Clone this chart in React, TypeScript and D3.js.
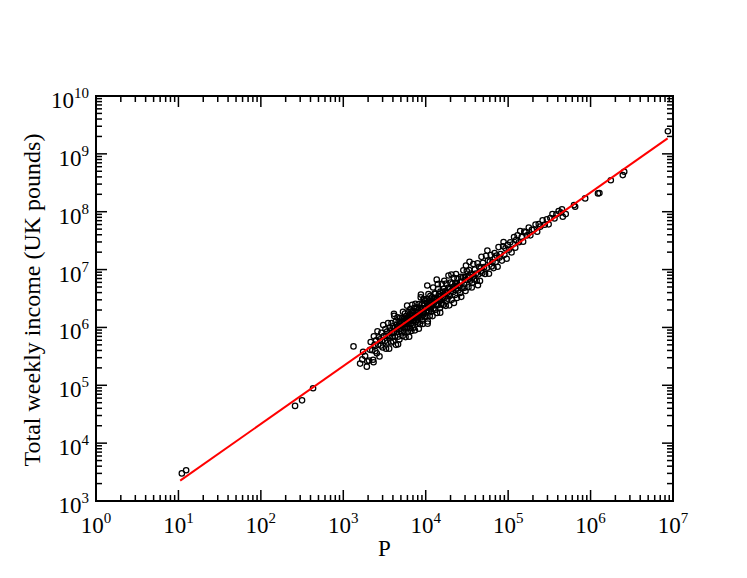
import React, { useEffect, useRef } from 'react';
import * as d3 from 'd3';

// population P and total weekly income (grouped roughly by decade slice)
const population = [
  11, 12.4, 260, 316, 430, 1330, 1600, 1930, 1840, 2300, 1740, 2110, 1700, 1950,
  2050, 2150, 2250, 2330, 2350, 2400, 2450, 2500,
  2550, 2600, 2650, 2700, 2750, 2800, 2850, 2900, 2950, 3000, 3050, 3100,
  3200, 3250, 3300, 3350, 3400, 3450, 3500, 3550, 3600, 3650, 3700, 3750, 3800, 3850, 3900, 3950,
  4000, 4050, 4100, 4150, 4200, 4250, 4300, 4350, 4400, 4450, 4500, 4550, 4600, 4650, 4700, 4750, 4800, 4850, 4900, 4950, 4120, 4620,
  5050, 5100, 5150, 5200, 5250, 5300, 5350, 5400, 5450, 5500, 5550, 5600, 5650, 5700, 5750, 5800, 5850, 5900, 5950, 6000, 6050, 6100, 6150, 6200, 6250, 6300,
  6350, 6400, 6450, 6500, 6550, 6600, 6650, 6700, 6750, 6800, 6850, 6900, 6950, 7000, 7050, 7100, 7150, 7200, 7250, 7300, 7400, 7450, 7500, 7550, 7600, 7700, 7800, 7900,
  8000, 8100, 8200, 8300, 8400, 8500, 8600, 8700, 8800, 8900, 9000, 9100, 9200, 9300, 9400, 9500, 9600, 9700, 9800, 9900, 8250, 8750, 9250, 9650, 8050, 8550, 9050, 9550,
  10100, 10200, 10300, 10400, 10500, 10600, 10700, 10800, 10900, 11000, 11100, 11200, 11300, 11400, 11500, 11600, 11700, 11800, 11900, 12000, 12100, 12200, 12300, 12400, 12500, 10550, 10450,
  12700, 12900, 13100, 13300, 13500, 13600, 13700, 13900, 14100, 14300, 14500, 14700, 14900, 15100, 15300, 15500, 15700, 13000, 13800, 14400, 15000, 15600, 14000, 12800,
  16000, 16300, 16600, 16900, 17200, 17500, 17800, 18100, 18400, 18700, 19000, 19300, 19600, 19900, 16800, 17400, 18000, 18900, 19500, 16200,
  20300, 20700, 21100, 21500, 21900, 22300, 22700, 23100, 23500, 23900, 24300, 24700, 25000, 20500, 22000, 23300, 24000, 21300,
  25600, 26200, 26800, 27400, 28000, 28600, 29200, 29800, 30400, 31000, 31500, 27000, 28300, 29500, 30800, 26000,
  32200, 33000, 33800, 34600, 35400, 36200, 37000, 37800, 38600, 39400, 34000, 36800, 33500, 38200,
  40500, 41500, 42500, 43500, 44500, 45500, 46500, 47500, 48500, 49500, 43000, 47000,
  51000, 52500, 54000, 55500, 57000, 58500, 60000, 61500, 63000, 56000,
  64500, 66500, 68500, 70500, 72500, 74500, 76500, 78500, 69000,
  81000, 84000, 87000, 90000, 93000, 96000, 99000, 88000,
  102000, 106000, 110000, 114000, 118000, 122000, 125000,
  130000, 135000, 140000, 146000, 152000, 157000,
  163000, 170000, 178000, 186000, 194000,
  205000, 215000, 225000, 235000, 245000,
  262000, 278000, 295000, 310000,
  325000, 345000, 365000, 385000,
  4.5e5, 5.0e5, 4.6e5, 6.3e5, 6.5e5, 8.6e5, 1.23e6, 1.28e6, 1.76e6, 2.46e6, 2.56e6, 8.67e6, 4.1e5, 4.4e5,
];

const income = [
  3.0e3, 3.4e3, 4.4e4, 5.5e4, 8.9e4, 4.7e5, 2.37e5, 2.1e5, 3.2e5, 2.76e5, 3.8e5, 4.1e5, 2.8e5, 2.6e5,
  2.67e5, 5.6e5, 4.05e5, 2.5e5, 7.05e5, 5.04e5, 3.9e5, 6.0e5,
  3.57e5, 8.6e5, 5.0e5, 6.75e5, 3.16e5, 6.2e5, 4.85e5, 8.1e5, 5.9e5, 4.5e5, 1.1e6, 7.1e5,
  5.8e5, 9.4e5, 4.3e5, 7.2e5, 8.5e5, 5.5e5, 1.19e6, 7.1e5, 4.3e5, 9.9e5, 7.0e5, 8.8e5, 5.5e5, 1.19e6, 8.0e5, 6.9e5,
  1.04e6, 5.7e5, 8.2e5, 1.58e6, 9.7e5, 7.0e5, 1.25e6, 5.0e5, 9.2e5, 1.11e6, 8.3e5, 1.5e6, 6.9e5, 1.05e6, 1.27e6, 9.3e5, 6.2e5, 1.16e6, 1.47e6, 8.7e5, 1.72e6, 5.1e5,
  1.06e6, 8.2e5, 1.44e6, 1.25e6, 7.1e5, 1.86e6, 1.02e6, 1.22e6, 1.42e6, 8.3e5, 1.14e6, 1.74e6, 1.02e6, 6.8e5, 1.35e6, 1.57e6, 1.14e6, 9.7e5, 2.38e6, 1.29e6, 1.51e6, 8.5e5, 1.85e6, 1.15e6, 1.44e6, 6.9e5,
  1.27e6, 1.66e6, 9.7e5, 2.08e6, 1.44e6, 1.16e6, 1.63e6, 8.7e5, 1.89e6, 1.39e6, 2.47e6, 1.31e6, 1.11e6, 1.61e6, 1.9e6, 9.9e5, 1.5e6, 2.16e6, 1.3e6, 1.83e6, 8.9e5, 1.6e6, 2.55e6, 1.47e6, 1.25e6, 1.85e6, 2.22e6, 1.58e6,
  1.8e6, 1.22e6, 2.54e6, 1.58e6, 2.18e6, 1.15e6, 1.81e6, 3.3e6, 2.11e6, 1.51e6, 2.52e6, 1.82e6, 1.15e6, 2.14e6, 3.1e6, 1.76e6, 2.4e6, 1.55e6, 2.11e6, 2.87e6, 9.5e5, 3.7e6, 1.62e6, 2.6e6, 1.97e6, 1.67e6, 1.31e6, 3.06e6,
  2.22e6, 1.53e6, 3.09e6, 1.98e6, 2.63e6, 1.27e6, 2.3e6, 3.78e6, 1.91e6, 2.92e6, 2.22e6, 1.57e6, 2.66e6, 3.53e6, 2.07e6, 2.84e6, 1.87e6, 2.48e6, 3.33e6, 2.34e6, 1.57e6, 2.81e6, 4.9e6, 2.11e6, 3.19e6, 1.16e6, 5.3e6,
  2.67e6, 2.0e6, 3.8e6, 2.46e6, 3.24e6, 6.7e6, 1.78e6, 3.06e6, 4.65e6, 2.43e6, 3.77e6, 2.94e6, 2.16e6, 4.15e6, 2.91e6, 3.57e6, 5.65e6, 3.25e6, 2.42e6, 3.1e6, 1.8e6, 2.57e6, 5.6e6, 3.84e6,
  3.28e6, 2.45e6, 4.65e6, 3.21e6, 4.21e6, 2.36e6, 5.7e6, 3.89e6, 3.13e6, 4.86e6, 3.7e6, 2.41e6, 4.61e6, 5.97e6, 6.4e6, 3.92e6, 2.88e6, 7.9e6, 3.51e6, 4.13e6,
  4.26e6, 3.0e6, 5.7e6, 4.09e6, 7.2e6, 5.13e6, 3.63e6, 5.78e6, 4.7e6, 3.23e6, 7.05e6, 5.31e6, 4.38e6, 8.2e6, 2.64e6, 8.4e6, 5.76e6, 4.69e6,
  5.12e6, 3.93e6, 7.5e6, 6.17e6, 4.76e6, 9.7e6, 5.55e6, 7.45e6, 4.26e6, 6.67e6, 9.45e6, 3.38e6, 7.36e6, 4.87e6, 1.17e7, 6.11e6,
  6.6e6, 4.95e6, 9.8e6, 6.4e6, 8.5e6, 4.89e6, 8.14e6, 1.25e7, 6.76e6, 1.0e7, 1.36e7, 5.89e6, 7.54e6, 7.64e6,
  8.5e6, 6.43e6, 1.28e7, 8.27e6, 1.11e7, 6.37e6, 1.05e7, 1.66e7, 8.73e6, 1.31e7, 5.38e6, 9.4e6,
  1.1e7, 8.4e6, 1.73e7, 1.08e7, 1.43e7, 8.48e6, 1.38e7, 1.78e7, 1.13e7, 2.13e7,
  1.35e7, 1.06e7, 1.92e7, 1.34e7, 1.74e7, 1.12e7, 2.45e7, 1.61e7, 1.59e7,
  1.86e7, 1.43e7, 2.52e7, 1.8e7, 2.33e7, 1.54e7, 2.67e7, 2.99e7,
  2.19e7, 2.97e7, 1.98e7, 2.74e7, 3.66e7, 2.38e7, 3.25e7,
  3.9e7, 2.97e7, 4.62e7, 3.65e7, 3.04e7, 4.55e7,
  4.4e7, 3.91e7, 5.34e7, 3.91e7, 4.85e7,
  4.92e7, 6.02e7, 4.5e7, 6.11e7, 5.51e7,
  7.07e7, 5.98e7, 7.38e7, 6.05e7,
  7.8e7, 9.14e7, 7.67e7, 9.05e7,
  1.1e8, 9.1e7, 8.2e7, 1.3e8, 1.22e8, 1.7e8, 2.07e8, 2.1e8, 3.5e8, 4.3e8, 4.9e8, 2.46e9, 1.03e8, 9.7e7,
];

// two ends of the fitted red line
const fitP = [10.5, 8.6e6];
const fitIncome = [2.25e3, 1.85e9];

const xExponents = [0, 1, 2, 3, 4, 5, 6, 7];
const yExponents = [3, 4, 5, 6, 7, 8, 9, 10];
const xTitle = 'P';
const yTitle = 'Total weekly income (UK pounds)';

const App = () => {
  const ref = useRef<SVGSVGElement>(null);

  useEffect(() => {
    const svg = d3.select(ref.current);
    svg.selectAll('*').remove();

    const left = 96, right = 673, top = 96, bottom = 501;
    const font = '"Liberation Serif", "Times New Roman", serif';

    const x = d3.scaleLog().domain([1, 1e7]).range([left, right]);
    const y = d3.scaleLog().domain([1e3, 1e10]).range([bottom, top]);

    const minors = (lo: number, hi: number) => {
      const out: number[] = [];
      for (let e = lo; e < hi; e++) for (let m = 2; m <= 9; m++) out.push(m * Math.pow(10, e));
      return out;
    };
    const xMajor = xExponents.map(e => Math.pow(10, e));
    const yMajor = yExponents.map(e => Math.pow(10, e));
    const xMinor = minors(0, 7);
    const yMinor = minors(3, 10);

    const majorLen = 11, minorLen = 6;
    const ticks = svg.append('g').attr('stroke', '#000').attr('stroke-width', 1.5);

    const addX = (vals: number[], len: number) => {
      vals.forEach(v => {
        ticks.append('line').attr('x1', x(v)).attr('x2', x(v)).attr('y1', bottom).attr('y2', bottom - len);
        ticks.append('line').attr('x1', x(v)).attr('x2', x(v)).attr('y1', top).attr('y2', top + len);
      });
    };
    const addY = (vals: number[], len: number) => {
      vals.forEach(v => {
        ticks.append('line').attr('y1', y(v)).attr('y2', y(v)).attr('x1', left).attr('x2', left + len);
        ticks.append('line').attr('y1', y(v)).attr('y2', y(v)).attr('x1', right).attr('x2', right - len);
      });
    };
    addX(xMajor, majorLen);
    addX(xMinor, minorLen);
    addY(yMajor, majorLen);
    addY(yMinor, minorLen);

    // scatter points
    const pts = population.map((p, i) => ({ p, v: income[i] }));
    svg.append('g')
      .selectAll('circle')
      .data(pts)
      .enter()
      .append('circle')
      .attr('cx', d => x(d.p))
      .attr('cy', d => y(d.v))
      .attr('r', 2.7)
      .attr('fill', 'none')
      .attr('stroke', '#000')
      .attr('stroke-width', 1.25);

    // fitted line
    const line = d3.line<number>()
      .x((_, i) => x(fitP[i]))
      .y(d => y(d));
    svg.append('path')
      .attr('d', line(fitIncome))
      .attr('fill', 'none')
      .attr('stroke', '#ff0000')
      .attr('stroke-width', 2);

    // frame
    svg.append('rect')
      .attr('x', left).attr('y', top)
      .attr('width', right - left).attr('height', bottom - top)
      .attr('fill', 'none').attr('stroke', '#000').attr('stroke-width', 2);

    // x tick labels
    xExponents.forEach(e => {
      const t = svg.append('text')
        .attr('x', x(Math.pow(10, e)))
        .attr('y', 533)
        .attr('text-anchor', 'middle')
        .attr('font-family', font)
        .attr('font-size', 23)
        .attr('fill', '#000');
      t.append('tspan').text('10');
      t.append('tspan').attr('dy', -10).attr('font-size', 15).text(String(e));
    });

    // y tick labels
    yExponents.forEach(e => {
      const t = svg.append('text')
        .attr('x', 89)
        .attr('y', y(Math.pow(10, e)) + 12)
        .attr('text-anchor', 'end')
        .attr('font-family', font)
        .attr('font-size', 23)
        .attr('fill', '#000');
      t.append('tspan').text('10');
      t.append('tspan').attr('dy', -10).attr('font-size', 15).text(String(e));
    });

    svg.append('text')
      .attr('x', (left + right) / 2)
      .attr('y', 556)
      .attr('text-anchor', 'middle')
      .attr('font-family', font)
      .attr('font-size', 23)
      .text(xTitle);

    svg.append('text')
      .attr('transform', `translate(40, 300) rotate(-90)`)
      .attr('text-anchor', 'middle')
      .attr('font-family', font)
      .attr('font-size', 24)
      .text(yTitle);
  }, []);

  return (
    <svg
      ref={ref}
      width={747}
      height={578}
      style={{ position: 'absolute', left: 0, top: 0, background: '#fff' }}
    />
  );
};

export default App;
